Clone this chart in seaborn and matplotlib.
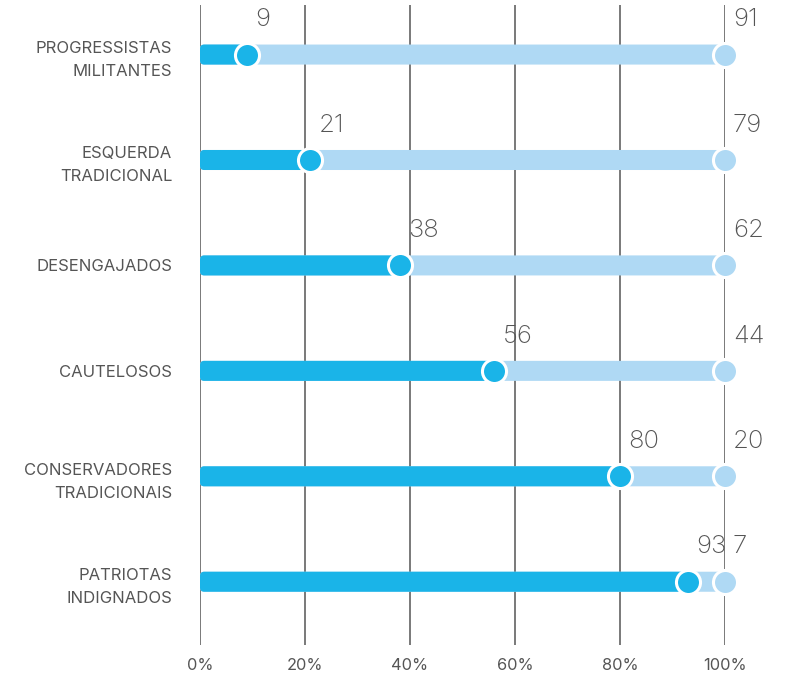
import matplotlib
matplotlib.use("Agg")
import matplotlib.pyplot as plt
import seaborn as sns
import pandas as pd
from matplotlib.patches import FancyBboxPatch

categories = ["PROGRESSISTAS\nMILITANTES", "ESQUERDA\nTRADICIONAL", "DESENGAJADOS",
              "CAUTELOSOS", "CONSERVADORES\nTRADICIONAIS", "PATRIOTAS\nINDIGNADOS"]
share_a = [9, 21, 38, 56, 80, 93]
share_b = [91, 79, 62, 44, 20, 7]
ticks = [0, 20, 40, 60, 80, 100]
tick_labels = ["0%", "20%", "40%", "60%", "80%", "100%"]

DARK = "#1AB4E8"
LIGHT = "#AFD9F4"
TXT = "#555555"

sns.set_theme(style="white")
plt.rcParams["font.family"] = ["Inter", "DejaVu Sans"]

df = pd.DataFrame({"cat": categories, "a": share_a, "b": share_b})
df["total"] = df["a"] + df["b"]

fig = plt.figure(figsize=(7.88, 6.76), dpi=100)
ax = fig.add_axes([200 / 788, 1 - 645 / 676, 525 / 788, 640 / 676])

for x in ticks:
    ax.axvline(x, color="#555555", lw=1.1, zorder=0)

sns.barplot(data=df, x="total", y="cat", color=LIGHT, width=0.19, ax=ax,
            saturation=1, zorder=2)
sns.barplot(data=df, x="a", y="cat", color=DARK, width=0.19, ax=ax,
            saturation=1, zorder=3)

# round the bar corners
for p in list(ax.patches):
    x0, y0 = p.get_x(), p.get_y()
    w, h = p.get_width(), p.get_height()
    fc = p.get_facecolor()
    z = p.get_zorder()
    p.remove()
    ax.add_patch(FancyBboxPatch((x0, y0), w, h,
                                boxstyle="round,pad=0,rounding_size=0.8",
                                mutation_aspect=0.05, fc=fc, ec="none", zorder=z))

sns.scatterplot(data=df, x="total", y="cat", color=LIGHT, s=300, edgecolor="white",
                linewidth=2.2, ax=ax, zorder=4)
sns.scatterplot(data=df, x="a", y="cat", color=DARK, s=300, edgecolor="white",
                linewidth=2.2, ax=ax, zorder=5)
for c in ax.collections:
    c.set_clip_on(False)

for i, (a, b, t) in enumerate(zip(share_a, share_b, df["total"])):
    ax.text(a + 1.6, i - 0.33, str(a), ha="left", va="center", fontsize=18.5,
            color=TXT, fontweight="light")
    ax.text(t + 1.5, i - 0.33, str(b), ha="left", va="center", fontsize=18.5,
            color=TXT, fontweight="light")

ax.set_xlim(0, 100)
ax.set_ylim(5.6, -0.47)
ax.set_xticks(ticks)
ax.set_xticklabels(tick_labels, fontsize=11.8, color=TXT)
ax.set_yticks(range(len(categories)))
ax.set_yticklabels(categories, fontsize=12, color=TXT, linespacing=1.65,
                   multialignment="right")
ax.tick_params(axis="y", length=0, pad=20)
ax.tick_params(axis="x", length=0, pad=9)
ax.set_xlabel("")
ax.set_ylabel("")
for s in ax.spines.values():
    s.set_visible(False)
ax.set_facecolor("none")

fig.savefig("out.png", dpi=100)
